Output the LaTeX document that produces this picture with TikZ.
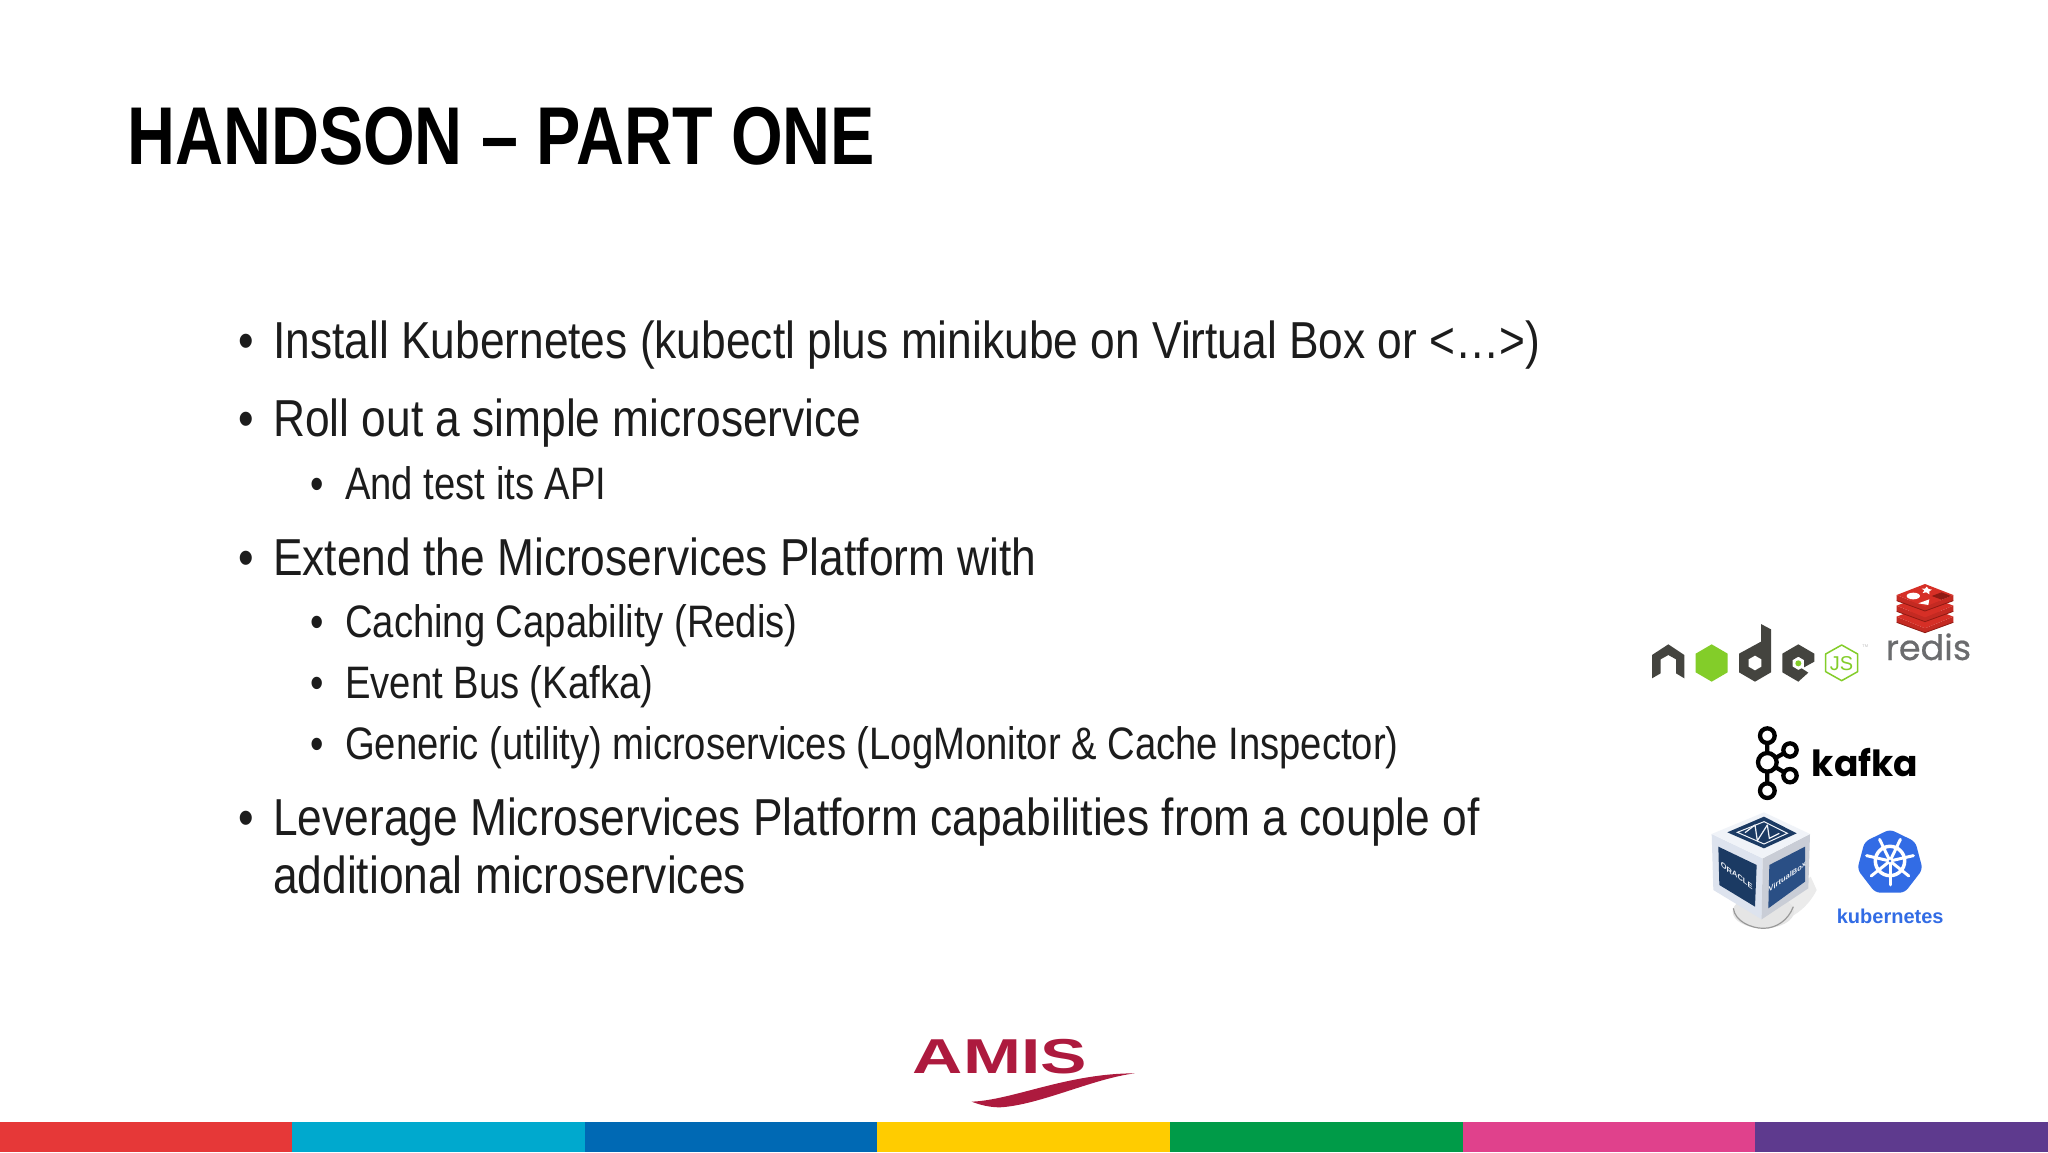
\documentclass[tikz,border=0pt]{standalone}
\usepackage{fontspec}
\setmainfont{Liberation Sans}
\newfontfamily\titlef[FakeStretch=0.81]{Liberation Sans}
\newfontfamily\onef[FakeStretch=0.852]{Liberation Sans}
\newfontfamily\twof[FakeStretch=0.84]{Liberation Sans}
\newfontfamily\widef[FakeStretch=1.42]{Liberation Sans}
\newfontfamily\popf{Poppins}
\newfontfamily\popbf[FakeBold=0.5]{Poppins}
\definecolor{nodedark}{HTML}{44443F}
\definecolor{nodegreen}{HTML}{83CD29}
\definecolor{redisA}{HTML}{D62F26}
\definecolor{redisC}{HTML}{C42A22}
\definecolor{redisB}{HTML}{8F1A13}
\definecolor{redisG}{HTML}{6B6C6E}
\definecolor{kubeblue}{HTML}{326CE5}
\definecolor{vbnavy}{HTML}{1B3A63}
\definecolor{vbblue}{HTML}{2A4F85}
\definecolor{vbleft}{HTML}{DDE3EE}
\definecolor{vbright}{HTML}{C9CDD6}
\definecolor{vbtop}{HTML}{F0F3F8}
\definecolor{amisred}{HTML}{AD1A3E}
\definecolor{bodyk}{HTML}{1C1C1C}
\tikzset{
  lone/.style={anchor=base west,inner sep=0,text=bodyk,font=\onef\fontsize{52}{52}\selectfont},
  ltwo/.style={anchor=base west,inner sep=0,text=bodyk,font=\twof\fontsize{45.5}{46}\selectfont},
  bar/.style={anchor=north west,minimum width=294pt,minimum height=30pt,inner sep=0,outer sep=0},
  ring/.style={draw=black,line width=4.3pt,fill=white}
}
\begin{document}
\begin{tikzpicture}[x=1pt,y=-1pt]
\useasboundingbox[fill=white] (0,0) rectangle (2048,1152);
\node[anchor=base west,inner sep=0,text=black,font=\titlef\bfseries\fontsize{82}{82}\selectfont] (title) at (127,164.5) {HANDSON – PART ONE};
% bullets
\node[lone] (b1m) at (238,358.5) {•};
\node[lone] (b1) at (273,358.5) {Install Kubernetes (kubectl plus minikube on Virtual Box or <…>)};
\node[lone] (b2m) at (238,436) {•};
\node[lone] (b2) at (273,436) {Roll out a simple microservice};
\node[ltwo] (b3m) at (310,499) {•};
\node[ltwo] (b3) at (345,499) {And test its API};
\node[lone] (b4m) at (238,575) {•};
\node[lone] (b4) at (273,575) {Extend the Microservices Platform with};
\node[ltwo] (b5m) at (310,637.5) {•};
\node[ltwo] (b5) at (345,637.5) {Caching Capability (Redis)};
\node[ltwo] (b6m) at (310,698) {•};
\node[ltwo] (b6) at (345,698) {Event Bus (Kafka)};
\node[ltwo] (b7m) at (310,759) {•};
\node[ltwo] (b7) at (345,759) {Generic (utility) microservices (LogMonitor \& Cache Inspector)};
\node[lone] (b8m) at (238,835) {•};
\node[lone] (b8) at (273,835) {Leverage Microservices Platform capabilities from a couple of};
\node[lone] (b9) at (273,893) {additional microservices};
% colour bar
\foreach \i/\x/\c in {0/0/E63838,1/292/00A9CE,2/584.5/0069B4,3/877/FFCC00,4/1169.5/009B48,5/1462.5/E0418C,6/1755/5E3A8E}{
  \definecolor{barc}{HTML}{\c}
  \node[bar,fill=barc] (bar\i) at (\x,1122) {};
}
% node.js + redis
\begin{scope}[shift={(1620,560)},x=0.3333pt,y=-0.3333pt]
  \fill[nodedark] (96,285)--(145,253)--(193,285)--(193,355)--(168,340)--(168,298)--(145,285)--(122,298)--(122,340)--(96,355)--cycle;
  \fill[nodegreen] (275,253)--(323,281)--(323,337)--(275,365)--(227,337)--(227,281)--cycle;
  \fill[nodedark] (357,281)--(423,245)--(423,192)--(453,208)--(453,337)--(405,365)--(357,337)--cycle;
  \fill[white] (405,287)--(424,298)--(424,320)--(405,331)--(386,320)--(386,298)--cycle;
  \fill[nodedark] (535,253)--(583,281)--(583,305)--(552,322)--(552,300)--(535,290)--(518,300)--(518,320)--(535,330)--(545,325)--(565,338)--(535,365)--(487,337)--(487,281)--cycle;
  \fill[nodegreen] (535,310) circle (9);
  \draw[nodegreen,line width=1.5pt,line join=round] (665,255)--(713,282)--(713,335)--(665,362)--(617,335)--(617,282)--cycle;
  \node[inner sep=0,text=nodegreen,font=\fontsize{20}{20}\selectfont] (js) at (665,310) {JS};
  \node[inner sep=0,text=black!25,font=\fontsize{4}{4}\selectfont] (tm) at (736,259) {TM};
  % redis stack
  \foreach \d in {65,32,0}{
    \fill[redisC] (830,{105+\d})--(915,{140+\d})--(1000,{105+\d})--(1000,{122+\d})--(915,{153+\d})--(830,{122+\d})--cycle;
    \draw[redisB,line width=.8pt] (830,{122+\d})--(915,{153+\d})--(1000,{122+\d});
    \fill[redisA] (915,{72+\d})--(1000,{105+\d})--(915,{140+\d})--(830,{105+\d})--cycle;
  }
  \fill[white] (880,108) ellipse (20 and 10);
  \fill[white] (920,80)--(926,87)--(936,89)--(928,94)--(928,103)--(919,97)--(908,99)--(913,91)--(905,86)--(915,86)--cycle;
  \fill[white] (895,130)--(928,118)--(925,135)--cycle;
  \fill[redisB] (935,108)--(965,97)--(993,108)--(965,119)--cycle;
  \node[anchor=base west,inner sep=0,text=redisG,font=\popbf\fontsize{35}{35}\selectfont] (redis) at (797,300) {redis};
\end{scope}
% kafka, virtualbox, kubernetes
\begin{scope}[shift={(1680,710)},x=0.3333pt,y=-0.3333pt]
  \draw[black,line width=4.3pt] (262,77)--(262,242) (262,157)--(330,120) (262,157)--(330,197);
  \fill[white] (262,157) circle (28);
  \draw[ring] (262,77) circle (22);
  \draw[ring] (262,157) circle (28);
  \draw[ring] (330,120) circle (20);
  \draw[ring] (330,197) circle (20);
  \draw[ring] (262,242) circle (22);
  \node[anchor=base west,inner sep=0,text=black,font=\popf\bfseries\fontsize{36}{36}\selectfont] (kafka) at (395,200) {kafka};
  % virtualbox
  \fill[black!8] (170,600) .. controls (240,670) and (360,640) .. (410,540) -- (392,500) -- (245,620) -- cycle;
  \fill[black!10] (250,605) ellipse (92 and 50);
  \draw[black!40,line width=1.2pt] (160,595) .. controls (165,635) and (215,655) .. (250,655) .. controls (290,655) and (325,630) .. (340,590);
  \fill[vbleft] (95,372)--(248,445)--(245,628)--(100,540)--cycle;
  \fill[vbright] (390,372)--(248,445)--(245,628)--(385,535)--cycle;
  \fill[vbtop] (252,307)--(390,372)--(248,445)--(95,372)--cycle;
  \fill[vbnavy] (252,320)--(350,370)--(252,415)--(142,367)--cycle;
  \fill[vbnavy] (115,410)--(230,465)--(225,590)--(118,525)--cycle;
  \fill[vbblue] (268,465)--(375,410)--(375,515)--(265,595)--cycle;
  \draw[vbtop,line width=1pt] (252,335)--(322,370)--(252,402)--(172,367)--cycle;
  \draw[vbtop,line width=1.2pt,line join=round] (195,368)--(225,345)--(232,392)--(262,345)--(268,385)--(298,370);
  \node[inner sep=0,text=vbtop,font=\bfseries\fontsize{7.5}{8}\selectfont,transform shape,yslant=-0.72] (oracle) at (170,497) {ORACLE};
  \node[inner sep=0,text=vbtop,font=\bfseries\fontsize{7.5}{8}\selectfont,transform shape,yslant=0.72] (vbox) at (322,500) {VirtualBox};
  % kubernetes
  \fill[kubeblue,rounded corners=5pt] (630,358)--(706,395)--(728,478)--(674,548)--(586,548)--(532,478)--(554,395)--cycle;
  \draw[white,line width=3.5pt] (630,453) circle (44);
  \foreach \a in {90,141.4,192.9,244.3,295.7,347.1,38.6}{
    \draw[white,line width=3pt,line cap=round] (630,453)++(\a:10) -- ++(\a:62);
  }
  \fill[white] (630,453) circle (11);
  \fill[kubeblue] (630,453) circle (4);
  \node[anchor=base west,inner sep=0,text=kubeblue,font=\bfseries\fontsize{20}{20}\selectfont] (kube) at (470,640) {kubernetes};
\end{scope}
% AMIS logo
\begin{scope}[shift={(880,1010)},x=0.3333pt,y=-0.3333pt]
  \node[anchor=base west,inner sep=0,text=amisred,font=\widef\bfseries\fontsize{49}{49}\selectfont] (amis) at (98,190) {AMIS};
  \fill[amisred] (275,275) .. controls (400,270) and (560,190) .. (765,190) .. controls (640,205) and (480,285) .. (360,292) .. controls (330,292) and (300,285) .. (275,275) -- cycle;
\end{scope}
\end{tikzpicture}
\end{document}
